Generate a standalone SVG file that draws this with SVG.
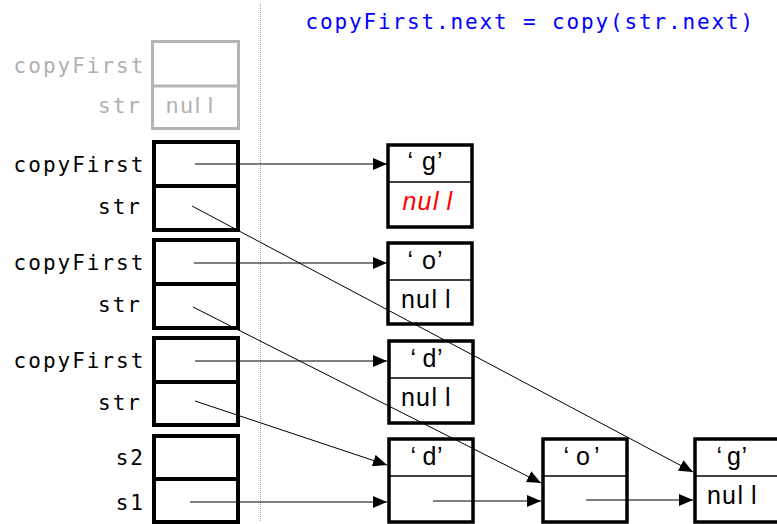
<svg xmlns="http://www.w3.org/2000/svg" width="777" height="524" viewBox="0 0 777 524">
  <defs>
    <marker id="arrow" markerUnits="userSpaceOnUse" markerWidth="14" markerHeight="12" refX="14" refY="6" orient="auto">
      <path d="M0,0 L14,6 L0,12 Z" fill="#000"/>
    </marker>
    <style>
      text { font-family: "DejaVu Sans Mono", "Liberation Mono", monospace; }
      .lbl { fill: #000; font-size: 21px; letter-spacing: 2px; }
      .old { fill: #b0b0b0; font-size: 21px; letter-spacing: 2px; }
      .title { fill: #0000ff; font-size: 21px; letter-spacing: 1.85px; }
      .val, .ch { fill: #000; font-family: "Liberation Sans", Arial, sans-serif; font-size: 25px; }
      .frame { fill: #fff; stroke: #000; stroke-width: 4; }
      .frame-div { stroke: #000; stroke-width: 4; }
      .ghost { fill: #fff; stroke: #b4b4b4; stroke-width: 3; }
      .ghost-div { stroke: #b4b4b4; stroke-width: 3; }
      .node { fill: #fff; stroke: #000; stroke-width: 3.5; }
      .node-div { stroke: #000; stroke-width: 1.5; }
      .link { stroke: #000; stroke-width: 1; fill: none; marker-end: url(#arrow); }
      .sep { stroke: #999; stroke-width: 1; stroke-dasharray: 1 1; }
    </style>
  </defs>

  <rect width="777" height="524" fill="#fff"/>

  <!-- stack / heap separator -->
  <line class="sep" x1="260.5" y1="4" x2="260.5" y2="522"/>

  <text class="title" x="305.6" y="29">copyFirst.next = copy(str.next)</text>

  <!-- finished frame (greyed out) -->
  <g id="frame-done">
    <rect class="ghost" x="152.5" y="41.5" width="86" height="87"/>
    <line class="ghost-div" x1="152.5" y1="86" x2="238.5" y2="86"/>
    <text class="old" x="13.6" y="72.7">copyFirst</text>
    <text class="old" x="98" y="113">str</text>
    <text class="val" x="166 180.5 195 208" y="113" style="fill:#b0b0b0;font-size:22px">null</text>
  </g>

  <!-- active stack frames -->
  <g id="frame-1">
    <rect class="frame" x="154" y="142" width="84" height="88"/>
    <line class="frame-div" x1="154" y1="186" x2="238" y2="186"/>
    <text class="lbl" x="13.6" y="172">copyFirst</text>
    <text class="lbl" x="98" y="214">str</text>
  </g>
  <g id="frame-2">
    <rect class="frame" x="154" y="240" width="84" height="88"/>
    <line class="frame-div" x1="154" y1="284" x2="238" y2="284"/>
    <text class="lbl" x="13.6" y="270">copyFirst</text>
    <text class="lbl" x="98" y="312">str</text>
  </g>
  <g id="frame-3">
    <rect class="frame" x="154" y="338" width="84" height="87"/>
    <line class="frame-div" x1="154" y1="382" x2="238" y2="382"/>
    <text class="lbl" x="13.6" y="368">copyFirst</text>
    <text class="lbl" x="98" y="410">str</text>
  </g>
  <g id="frame-main">
    <rect class="frame" x="154" y="436" width="84" height="86"/>
    <line class="frame-div" x1="154" y1="479" x2="238" y2="479"/>
    <text class="lbl" x="115.7" y="465">s2</text>
    <text class="lbl" x="115.7" y="510">s1</text>
  </g>

  <!-- copied nodes -->
  <g id="copy-g">
    <rect class="node" x="388" y="145" width="84" height="82"/>
    <line class="node-div" x1="388" y1="182" x2="472" y2="182"/>
    <text class="ch" x="407.5 414 422 437" y="170">‘ g’</text>
    <text class="val" x="402.5 417.5 433 446.5" y="210" style="fill:#ff0000;font-style:italic">null</text>
  </g>
  <g id="copy-o">
    <rect class="node" x="388" y="243" width="84" height="81"/>
    <line class="node-div" x1="388" y1="280" x2="472" y2="280"/>
    <text class="ch" x="407.5 414 422 437" y="269">‘ o’</text>
    <text class="val" x="401 416 431.5 445" y="308">null</text>
  </g>
  <g id="copy-d">
    <rect class="node" x="389" y="341" width="84" height="82"/>
    <line class="node-div" x1="389" y1="378" x2="473" y2="378"/>
    <text class="ch" x="410.5 416 422.5 437" y="367">‘ d’</text>
    <text class="val" x="401 416 431.5 445" y="406">null</text>
  </g>

  <!-- original list -->
  <g id="node-d">
    <rect class="node" x="389" y="439" width="84" height="83"/>
    <line class="node-div" x1="389" y1="476" x2="473" y2="476"/>
    <text class="ch" x="410.5 416 422.5 437" y="465">‘ d’</text>
  </g>
  <g id="node-o">
    <rect class="node" x="543" y="439" width="84" height="83"/>
    <line class="node-div" x1="543" y1="476" x2="627" y2="476"/>
    <text class="ch" x="563.5 569 576 594" y="465">‘ o’</text>
  </g>
  <g id="node-g">
    <rect class="node" x="695" y="439" width="84" height="83"/>
    <line class="node-div" x1="695" y1="476" x2="779" y2="476"/>
    <text class="ch" x="716.5 721 727 741.5" y="465">‘ g’</text>
    <text class="val" x="707 722 737.5 751" y="504">null</text>
  </g>

  <!-- references -->
  <g id="connectors">
    <line class="link" x1="195" y1="164" x2="387" y2="164"/>
    <line class="link" x1="192" y1="206" x2="693" y2="472"/>
    <line class="link" x1="194" y1="263" x2="387" y2="263"/>
    <line class="link" x1="193" y1="307" x2="541" y2="483"/>
    <line class="link" x1="195" y1="361" x2="387" y2="361"/>
    <line class="link" x1="195" y1="401" x2="387" y2="465"/>
    <line class="link" x1="190" y1="502" x2="387" y2="502"/>
    <line class="link" x1="433" y1="501" x2="541" y2="501"/>
    <line class="link" x1="586" y1="500" x2="693" y2="500"/>
  </g>
</svg>
